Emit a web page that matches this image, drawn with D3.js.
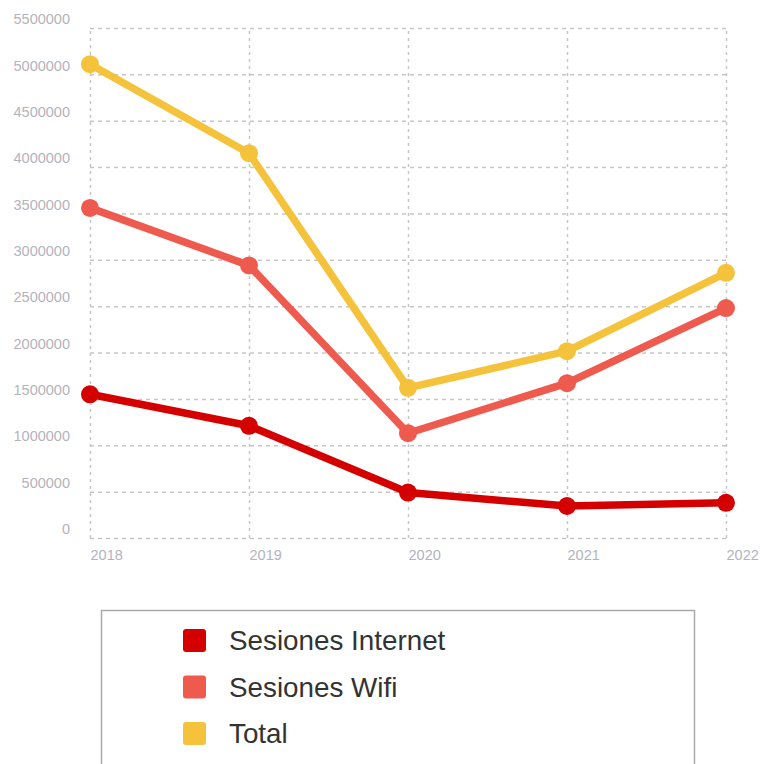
<!DOCTYPE html>
<html>
<head>
<meta charset="utf-8">
<script src="https://cdn.jsdelivr.net/npm/d3@7"></script>
<style>
  html, body { margin: 0; padding: 0; background: #fff; }
  svg { display: block; font-family: "Liberation Sans", Arial, sans-serif; }
</style>
</head>
<body>
<svg id="chart" width="760" height="764"></svg>
<script>
const years = ["2018", "2019", "2020", "2021", "2022"];
const sesionesInternet = [1550000, 1210000, 490000, 345000, 380000];
const sesionesWifi = [3560000, 2940000, 1130000, 1670000, 2480000];
const total = [5110000, 4150000, 1620000, 2015000, 2860000];
const yTicks = [0, 500000, 1000000, 1500000, 2000000, 2500000, 3000000, 3500000, 4000000, 4500000, 5000000, 5500000];
const seriesNames = ["Sesiones Internet", "Sesiones Wifi", "Total"];
const seriesColors = ["#d40000", "#ef5a4f", "#f4c23b"];

const series = [
  { name: seriesNames[0], values: sesionesInternet, color: seriesColors[0] },
  { name: seriesNames[1], values: sesionesWifi, color: seriesColors[1] },
  { name: seriesNames[2], values: total, color: seriesColors[2] }
];

const svg = d3.select("#chart");
const mLeft = 90, mRight = 726, mTop = 28, mBottom = 538;

const x = d3.scalePoint().domain(years).range([mLeft, mRight]);
const y = d3.scaleLinear().domain([0, 5500000]).range([mBottom, mTop]);

// horizontal grid + y labels
const yAxis = svg.append("g")
  .attr("transform", `translate(${mLeft},0)`)
  .call(d3.axisLeft(y).tickValues(yTicks).tickSize(-(mRight - mLeft)).tickPadding(20).tickFormat(d3.format("d")));
yAxis.select(".domain").remove();
yAxis.selectAll(".tick line")
  .attr("stroke", "#c6c6c6").attr("stroke-width", 1.5).attr("stroke-dasharray", "4,4");
yAxis.selectAll(".tick text")
  .attr("fill", "#b3b3bd").attr("font-size", 14.5).attr("dy", "-0.3em")
  .attr("font-family", "Liberation Sans, Arial, sans-serif");

// vertical grid + x labels
const xAxis = svg.append("g")
  .attr("transform", `translate(0,${mBottom})`)
  .call(d3.axisBottom(x).tickSize(-(mBottom - mTop)).tickPadding(12));
xAxis.select(".domain").remove();
xAxis.selectAll(".tick line")
  .attr("stroke", "#c6c6c6").attr("stroke-width", 1.5).attr("stroke-dasharray", "3,4");
xAxis.selectAll(".tick text")
  .attr("fill", "#b3b3bd").attr("font-size", 14.5).attr("text-anchor", "start")
  .attr("font-family", "Liberation Sans, Arial, sans-serif");

// lines
const line = d3.line().x((d, i) => x(years[i])).y(d => y(d));
const drawOrder = [series[2], series[1], series[0]];
drawOrder.forEach(s => {
  svg.append("path")
    .datum(s.values)
    .attr("d", line)
    .attr("fill", "none")
    .attr("stroke", s.color)
    .attr("stroke-width", 7.5)
    .attr("stroke-linejoin", "round");
  svg.append("g").selectAll("circle")
    .data(s.values)
    .join("circle")
    .attr("cx", (d, i) => x(years[i]))
    .attr("cy", d => y(d))
    .attr("r", 9)
    .attr("fill", s.color);
});

// legend
svg.append("rect")
  .attr("x", 101.5).attr("y", 610.5)
  .attr("width", 593).attr("height", 200)
  .attr("fill", "none").attr("stroke", "#aaaaaa").attr("stroke-width", 1.5);

const leg = svg.append("g").selectAll("g")
  .data(series)
  .join("g")
  .attr("transform", (d, i) => `translate(183,${640 + i * 46.5})`);
leg.append("rect")
  .attr("x", 0).attr("y", -11).attr("width", 23).attr("height", 23).attr("rx", 3)
  .attr("fill", d => d.color);
leg.append("text")
  .attr("x", 46).attr("y", 0).attr("dy", "0.36em")
  .attr("font-size", 27.8).attr("fill", "#333333")
  .text(d => d.name);
</script>
</body>
</html>
